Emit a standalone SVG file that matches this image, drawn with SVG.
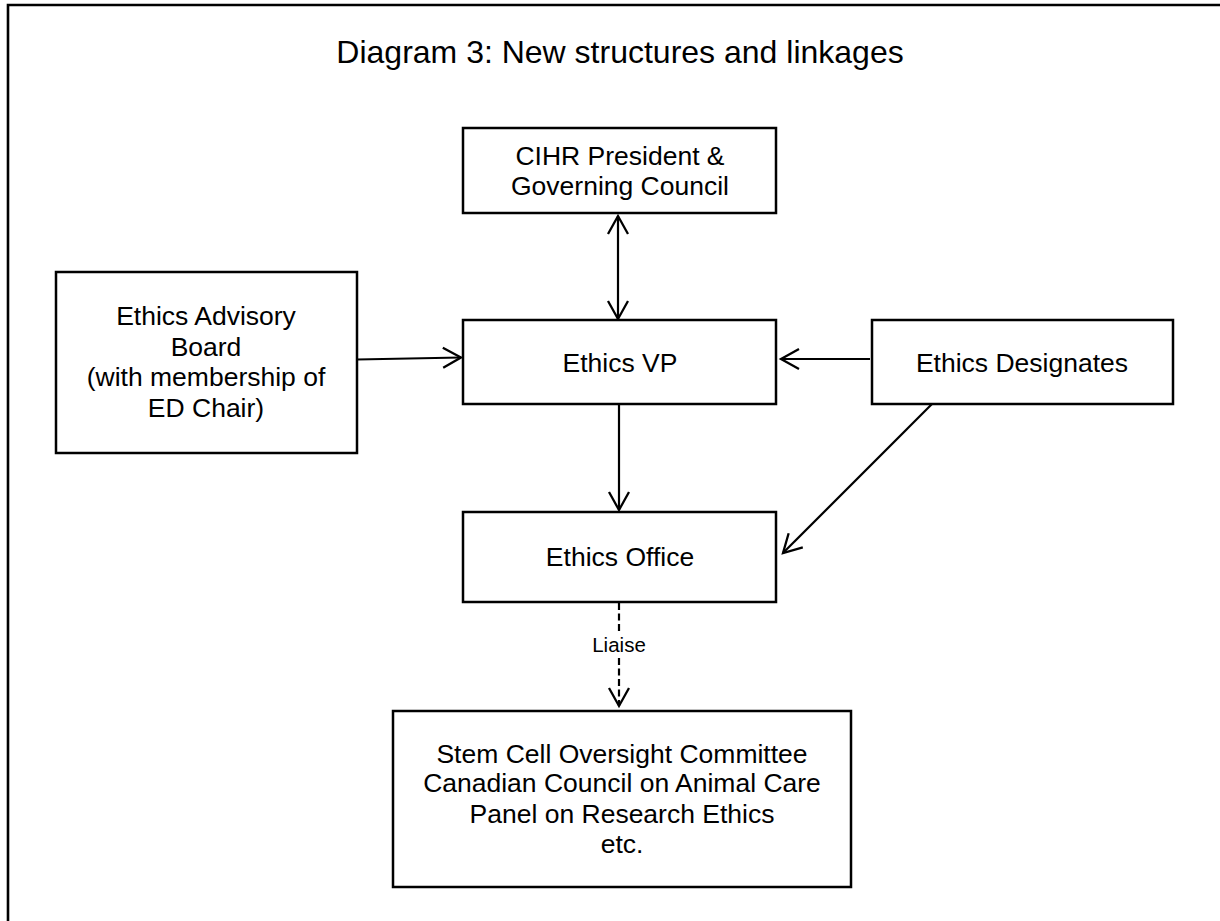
<svg xmlns="http://www.w3.org/2000/svg" width="1220" height="921" viewBox="0 0 1220 921">
<style>
.box{fill:#fff;stroke:#000;stroke-width:2.5}
.t{font-family:"Liberation Sans",Arial,sans-serif;font-size:26.5px;fill:#000;text-anchor:middle}
.title{font-family:"Liberation Sans",Arial,sans-serif;font-size:32px;fill:#000;text-anchor:middle}
.lbl{font-family:"Liberation Sans",Arial,sans-serif;font-size:20.5px;fill:#000;text-anchor:middle}
.c{fill:none;stroke:#000;stroke-width:2.2}
.d{stroke-dasharray:7,3.5}
</style>
<defs>
<marker id="ah" markerUnits="userSpaceOnUse" viewBox="0 0 24 24" markerWidth="24" markerHeight="24" refX="20" refY="12" orient="auto-start-reverse">
<path d="M2,2 L20,12 L2,22" fill="none" stroke="#000" stroke-width="2.3"/>
</marker>
</defs>
<rect width="1220" height="921" fill="#fff"/>
<path d="M8,930 L8,5 L1230,5" fill="none" stroke="#000" stroke-width="2.6"/>
<text class="title" x="620" y="63">Diagram 3: New structures and linkages</text>
<g id="connectors">
<line class="c" x1="618" y1="216" x2="618" y2="319" marker-start="url(#ah)" marker-end="url(#ah)"/>
<line class="c" x1="357" y1="359.5" x2="461" y2="357.5" marker-end="url(#ah)"/>
<line class="c" x1="870" y1="359" x2="781" y2="359" marker-end="url(#ah)"/>
<line class="c" x1="619" y1="404" x2="619" y2="510" marker-end="url(#ah)"/>
<line class="c" x1="933" y1="403" x2="783" y2="553" marker-end="url(#ah)"/>
<line class="c d" x1="619" y1="603" x2="619" y2="633"/>
<line class="c d" x1="619" y1="658" x2="619" y2="706" marker-end="url(#ah)"/>
<text class="lbl" x="619" y="652">Liaise</text>
</g>
<g id="cihr">
<rect class="box" x="463" y="128" width="313" height="85"/>
<text class="t" x="620" y="165">CIHR President &amp;</text>
<text class="t" x="620" y="195">Governing Council</text>
</g>
<g id="advisory">
<rect class="box" x="56" y="272" width="301" height="181"/>
<text class="t" x="206" y="325">Ethics Advisory</text>
<text class="t" x="206" y="356">Board</text>
<text class="t" x="206" y="386">(with membership of</text>
<text class="t" x="206" y="417">ED Chair)</text>
</g>
<g id="vp">
<rect class="box" x="463" y="320" width="313" height="84"/>
<text class="t" x="620" y="371.5">Ethics VP</text>
</g>
<g id="designates">
<rect class="box" x="872" y="320" width="301" height="84"/>
<text class="t" x="1022" y="371.5">Ethics Designates</text>
</g>
<g id="office">
<rect class="box" x="463" y="512" width="313" height="90"/>
<text class="t" x="620" y="566">Ethics Office</text>
</g>
<g id="others">
<rect class="box" x="393" y="711" width="458" height="176"/>
<text class="t" x="622" y="763">Stem Cell Oversight Committee</text>
<text class="t" x="622" y="792">Canadian Council on Animal Care</text>
<text class="t" x="622" y="823">Panel on Research Ethics</text>
<text class="t" x="622" y="853">etc.</text>
</g>
</svg>
